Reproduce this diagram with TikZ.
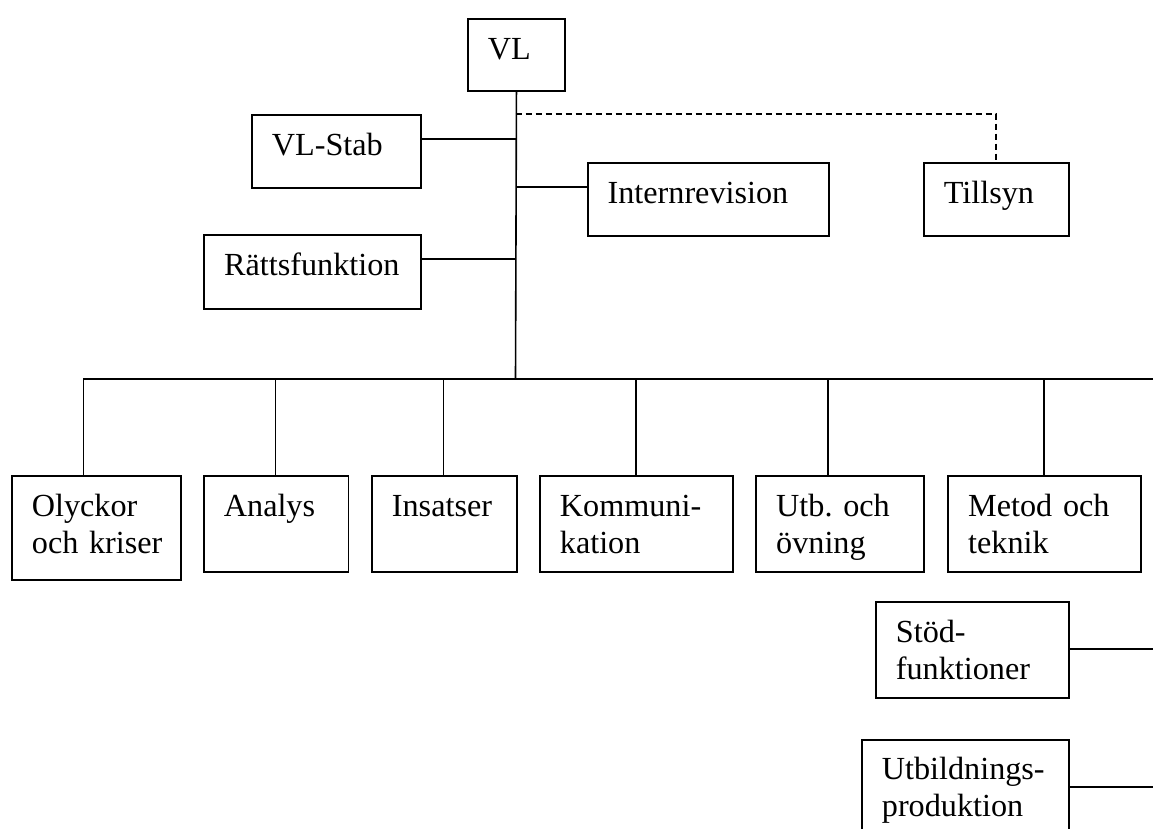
\documentclass[tikz,border=0pt]{standalone}
\usepackage{fontspec}
\setmainfont{Liberation Serif}
\frenchspacing
\tikzset{
  orgbox/.style={draw, line width=1.9pt, inner sep=0pt, anchor=north west},
  lbl/.style={anchor=base west, inner sep=0pt, text width=240pt, align=left,
              font=\fontsize{32.2}{37}\selectfont},
  conn/.style={line width=1.6pt},
  dashconn/.style={line width=1.7pt, dash pattern=on 6pt off 4pt},
}
\newcommand{\orgunit}[6]{%
  \node[orgbox, minimum width=#4pt, minimum height=#5pt] (#1) at (#2,#3) {};
  \node[lbl] (#1-t) at ([xshift=20.7pt,yshift=-41pt]#1.north west) {#6};
}
\begin{document}
\begin{tikzpicture}[x=1pt,y=-1pt]
\useasboundingbox (0,0) rectangle (1153,828);
\clip (0,0) rectangle (1153,828);

% boxes
\orgunit{vl}{467}{18.3}{97}{72}{VL}
\orgunit{vlstab}{251}{114.3}{168.7}{72.7}{VL-Stab}
\orgunit{ratt}{203.3}{234.3}{216.4}{73.4}{Rättsfunktion}
\orgunit{intern}{586.7}{162.3}{241.3}{73}{Internrevision}
\orgunit{tillsyn}{923}{162.3}{144.7}{72.7}{Tillsyn}
\orgunit{olyckor}{11}{475}{169}{104}{Olyckor\\och kriser}
\orgunit{analys}{203}{475}{144.5}{96}{Analys}
\orgunit{insatser}{371}{475}{144.7}{96}{Insatser}
\orgunit{komm}{539}{475}{193}{96}{Kommuni-\\kation}
\orgunit{utb}{755.3}{475}{168}{96}{Utb. och\\övning}
\orgunit{metod}{947.3}{475}{192.7}{96}{Metod och\\teknik}
\orgunit{stod}{875}{601}{193}{96}{Stöd-\\funktioner}
\orgunit{utbild}{861}{738.7}{207}{120}{Utbildnings-\\produktion}

% trunk and side branches
\coordinate (trunkbot) at (515.5,379);
\coordinate (jTill) at (515.5,114.3);
\coordinate (jStab) at (515.5,139);
\coordinate (jInt) at (515.5,187);
\coordinate (jRatt) at (515.5,259);
\draw[conn] (vl.south) -- (trunkbot);
\draw[conn] (vlstab.east |- jStab) -- (jStab);
\draw[conn] (ratt.east |- jRatt) -- (jRatt);
\draw[conn] (jInt) -- (jInt -| intern.west);
\draw[dashconn] (jTill) -- (jTill -| tillsyn.north) -- (tillsyn.north);

% bus
\coordinate (busL) at (83.3,379);
\coordinate (busR) at (1153,379);
\draw[conn, line width=1.9pt] (busL) -- (busR);
\foreach \n/\x in {olyckor/83.3, analys/275.3, insatser/443.5, komm/635.8, utb/827.7, metod/1044}{
  \coordinate (d-\n) at (\x,379);
  \draw[conn] (d-\n) -- (d-\n |- \n.north);
}

% right-hand branches
\coordinate (eStod) at (1153,649);
\coordinate (eUtbild) at (1153,786.7);
\draw[conn] (eStod -| stod.east) -- (eStod);
\draw[conn] (eUtbild -| utbild.east) -- (eUtbild);
\end{tikzpicture}
\end{document}
